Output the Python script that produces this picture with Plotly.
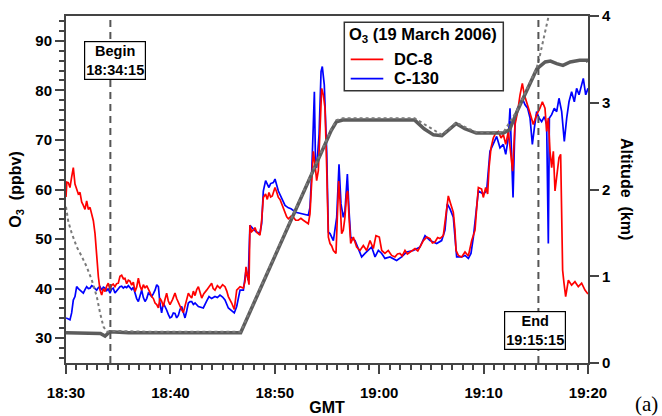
import plotly.graph_objects as go

# ---------------- data (minutes after 18:30 GMT) ----------------
t_dc8 = [0.00,0.08,0.22,0.38,0.54,0.70,0.86,1.02,1.18,1.34,1.50,1.66,1.82,1.98,2.14,2.30,2.46,2.62,2.78,2.94,
         3.10,3.26,3.42,3.58,3.74,3.90,4.05,4.21,4.37,4.53,4.69,4.85,5.01,5.17,5.33,5.49,5.65,5.81,5.97,6.13,
         6.29,6.45,6.61,6.77,6.93,7.09,7.25,7.41,7.57,7.73,7.89,8.05,8.21,8.37,8.53,8.69,8.85,9.00,9.16,9.32,
         9.48,9.64,9.80,9.96,10.20,10.44,10.60,10.76,10.92,11.08,11.24,11.40,11.56,11.72,11.88,12.04,12.20,12.36,12.52,12.68,
         13.00,13.20,13.47,13.70,13.95,14.10,14.27,14.50,14.75,15.00,15.23,15.40,15.55,15.87,16.12,16.35,16.67,16.99,17.15,17.24,
         17.40,17.53,17.62,17.78,17.94,18.10,18.26,18.42,18.58,18.74,18.90,19.12,19.28,19.44,19.60,19.76,19.90,20.02,20.18,20.34,
         20.50,20.66,20.82,20.98,21.14,21.30,21.55,21.78,22.00,22.25,22.50,22.73,23.00,23.21,23.37,23.53,23.69,23.85,24.01,24.17,
         24.33,24.49,24.65,24.81,24.97,25.13,25.29,25.45,25.61,25.86,25.99,26.12,26.25,26.40,26.56,26.72,26.88,26.98,27.11,27.27,
         27.52,27.84,28.16,28.48,28.80,29.12,29.44,29.69,30.01,30.24,30.55,30.87,31.19,31.51,31.75,31.99,32.20,32.47,32.70,32.95,
         33.20,33.43,33.70,33.91,34.23,34.55,34.87,35.10,35.34,35.60,35.82,36.14,36.40,36.62,36.85,37.10,37.26,37.36,37.58,37.90,
         38.22,38.54,38.86,39.18,39.34,39.50,39.81,39.97,40.20,40.39,40.52,40.71,40.93,41.16,41.41,41.67,41.89,42.12,42.37,42.63,
         42.78,43.01,43.26,43.49,43.71,43.90,44.13,44.45,44.76,45.08,45.40,45.63,45.88,46.04,46.20,46.36,46.52,46.68,46.84,47.00,
         47.22,47.38,47.48,47.57,47.70,47.86,48.12,48.43,48.75,49.07,49.39,49.71,50.00]
o3_dc8 = [58.5,61.5,61.4,60.4,62.5,64.4,61.1,60.0,59.1,59.4,57.5,56.8,56.0,57.7,56.0,56.4,55.0,53.7,51.1,46.4,
          42.4,39.7,38.7,40.0,39.4,40.5,41.1,39.8,40.7,40.9,40.4,41.0,41.1,42.5,42.7,42.0,42.1,41.0,41.7,41.5,
          40.7,41.3,39.4,40.3,42.1,40.5,39.7,40.8,40.1,40.6,39.7,39.2,38.4,38.0,37.1,36.8,36.1,38.1,37.5,36.4,
          37.8,39.1,37.5,36.8,37.8,39.1,38.0,37.1,36.5,35.7,35.2,36.4,37.8,39.1,38.5,38.1,39.5,38.6,39.8,40.4,
          38.1,39.0,39.7,40.5,41.1,40.0,39.7,40.6,40.1,40.8,40.4,39.5,38.4,37.1,35.8,39.7,40.4,40.1,41.5,44.4,
          42.4,40.8,52.8,51.5,51.8,52.3,51.4,51.0,50.8,53.8,58.4,59.1,58.0,59.4,58.5,58.7,59.5,60.4,59.5,58.4,
          58.0,57.1,56.0,55.1,54.5,54.1,54.6,54.4,53.8,53.8,54.2,53.8,53.3,53.1,55.1,61.8,67.7,65.1,61.8,63.8,
          74.4,80.4,79.1,76.4,64.4,50.4,49.1,48.6,47.7,47.1,54.4,61.7,57.7,51.1,51.8,54.4,59.1,59.7,54.4,49.1,
          50.4,48.4,47.7,48.7,47.7,49.7,48.1,50.7,50.4,47.7,47.1,47.7,46.7,46.4,47.0,47.1,46.6,47.7,47.0,47.4,
          47.9,48.1,47.6,48.4,49.7,50.4,50.1,49.2,49.4,50.3,50.1,50.7,55.7,58.7,57.1,55.4,51.8,47.7,46.7,46.4,
          47.4,46.6,49.7,51.8,56.4,60.4,60.1,58.4,60.4,59.1,64.4,68.4,70.4,71.4,71.7,70.4,71.1,69.1,71.7,66.4,
          63.7,73.1,75.7,79.1,81.4,79.1,77.7,75.4,73.1,75.1,76.4,77.7,76.4,71.7,74.4,67.7,64.4,67.7,59.7,62.4,
          66.4,67.1,57.7,43.7,41.1,38.4,41.7,40.7,41.4,40.4,41.1,39.7,38.9]

t_c130 = [0.00,0.22,0.38,0.54,0.70,0.86,1.02,1.18,1.34,1.50,1.66,1.82,1.98,2.14,2.30,2.46,2.62,2.78,2.94,3.10,
          3.26,3.42,3.58,3.74,3.90,4.05,4.21,4.37,4.53,4.69,4.85,5.01,5.17,5.33,5.49,5.65,5.81,5.97,6.13,6.29,
          6.45,6.61,6.77,6.93,7.09,7.25,7.41,7.57,7.73,7.89,8.05,8.21,8.37,8.53,8.69,8.85,9.00,9.16,9.32,9.48,
          9.64,9.80,9.96,10.12,10.28,10.44,10.60,10.76,10.92,11.08,11.24,11.40,11.56,11.72,11.88,12.04,12.20,12.36,12.68,13.00,
          13.15,13.47,13.70,13.95,14.27,14.50,14.75,15.00,15.23,15.55,15.87,16.12,16.35,16.67,16.99,17.24,17.45,17.62,17.94,18.26,
          18.58,18.74,18.90,19.12,19.44,19.60,19.86,20.02,20.34,20.66,20.98,21.30,21.55,22.00,22.50,22.73,23.21,23.37,23.53,23.69,
          23.79,23.90,24.01,24.24,24.43,24.55,24.74,24.97,25.13,25.29,25.45,25.61,25.93,26.15,26.34,26.56,26.72,26.95,27.11,27.27,
          27.68,28.00,28.32,28.64,28.96,29.28,29.60,29.92,30.24,30.55,31.03,31.67,32.15,32.63,33.27,33.91,34.39,34.87,35.50,35.98,
          36.30,36.52,36.78,37.10,37.26,37.42,37.90,38.22,38.54,38.79,39.02,39.34,39.50,39.97,40.29,40.61,40.93,41.25,41.57,41.89,
          42.12,42.37,42.53,42.69,42.82,43.01,43.26,43.49,43.71,43.97,44.22,44.45,44.67,44.86,45.08,45.31,45.56,45.82,46.04,46.20,
          46.30,46.52,46.77,47.00,47.22,47.48,47.73,47.96,48.18,48.43,48.69,48.91,49.14,49.39,49.55,49.78,50.00]
o3_c130 = [34.1,33.9,33.7,35.1,37.7,38.4,40.4,40.0,39.7,39.2,39.1,39.8,40.4,40.0,40.1,40.6,40.4,40.0,39.7,40.2,
           40.4,39.7,40.3,40.1,39.6,40.0,39.1,39.9,40.1,39.1,39.6,40.0,40.4,40.5,40.1,40.4,40.2,40.6,40.1,39.8,
           40.3,39.1,38.0,37.4,38.5,39.7,38.2,37.4,38.0,39.1,38.8,38.4,39.0,39.7,40.8,40.4,37.0,35.1,37.1,36.5,
           35.7,34.8,34.1,34.3,35.1,35.0,34.1,34.6,35.8,36.4,35.0,34.1,35.5,37.1,37.4,37.4,36.8,37.1,36.4,36.2,
           36.1,37.5,38.4,38.0,38.4,38.2,38.7,38.3,37.7,36.1,35.5,35.1,36.4,39.7,39.7,43.7,41.7,52.8,52.0,51.4,
           51.2,53.1,59.7,61.8,60.4,61.2,61.4,62.1,59.7,58.4,56.8,56.3,56.1,55.4,55.2,55.1,54.8,56.4,63.1,73.1,
           79.7,65.1,64.4,71.1,83.8,84.8,81.1,67.7,51.4,51.1,50.5,49.7,54.4,65.1,57.1,54.4,55.7,63.1,55.7,50.4,
           49.7,48.1,46.4,47.1,47.7,48.4,46.4,47.7,47.1,46.1,46.4,45.7,46.4,47.4,47.7,48.4,50.7,49.7,49.1,49.7,
           51.8,57.1,56.1,54.4,50.4,46.4,46.4,46.7,46.1,47.1,50.4,56.4,59.7,59.1,59.7,67.7,69.1,70.7,68.4,69.1,
           67.1,70.4,76.4,67.7,58.4,73.7,76.4,77.1,78.4,77.1,76.4,74.4,69.1,72.4,75.7,74.4,73.7,74.7,73.1,49.1,
           74.4,75.1,76.4,75.7,78.4,75.7,69.7,74.4,77.7,79.7,77.7,80.4,79.1,81.1,82.4,79.1,80.4]

# altitude (km): solid = C-130, dotted = DC-8
t_alt_c130 = [0.0,2.0,3.3,3.74,4.2,6.0,10.0,14.0,16.73,25.4,25.9,26.5,33.4,34.3,35.2,36.0,36.6,37.36,38.2,39.3,
              41.9,42.5,43.2,44.1,45.1,45.9,46.4,47.0,47.6,48.3,49.2,49.9,50.0]
alt_c130 = [0.35,0.35,0.34,0.31,0.36,0.35,0.35,0.34,0.35,2.68,2.78,2.80,2.80,2.70,2.63,2.62,2.68,2.76,2.70,2.65,
            2.65,2.69,2.90,3.13,3.39,3.47,3.48,3.45,3.43,3.47,3.49,3.49,3.47]
t_alt_dc8 = [0.0,0.22,0.54,1.02,1.5,1.98,2.46,2.94,3.26,3.58,3.9,4.5,8.0,12.0,16.73,25.4,25.9,26.5,33.4,36.0,
             37.36,39.3,41.9,43.2,44.1,45.08,45.4,45.88,46.2,46.6]
alt_dc8 = [1.80,1.63,1.50,1.34,1.23,1.11,0.96,0.77,0.58,0.42,0.36,0.37,0.36,0.36,0.36,2.69,2.80,2.82,2.82,2.63,
           2.77,2.66,2.66,2.91,3.14,3.40,3.55,3.80,4.00,4.20]

x_tickvals = [0, 10, 20, 30, 40, 50]
x_ticktext = ["18:30", "18:40", "18:50", "19:00", "19:10", "19:20"]
t_begin, t_end = 4.25, 45.25
begin_label, end_label = "Begin<br>18:34:15", "End<br>19:15:15"

# ---------------- layout helpers ----------------
W, H = 662, 416
L, R, T, B = 66, 588, 16, 363
def px(x):
    return (x - L) / (R - L)
def py(y):
    return (B - y) / (B - T)

FONT = "Arial, Liberation Sans, sans-serif"
AX = "#444444"

fig = go.Figure()
fig.add_trace(go.Scatter(x=t_c130, y=o3_c130, mode="lines", name="C-130",
                         line=dict(color="#0000ff", width=1.7), showlegend=False))
fig.add_trace(go.Scatter(x=t_dc8, y=o3_dc8, mode="lines", name="DC-8",
                         line=dict(color="#ff0000", width=1.7), showlegend=False))
fig.add_trace(go.Scatter(x=t_alt_c130, y=alt_c130, mode="lines", yaxis="y2", name="C-130 altitude",
                         line=dict(color="#5c5c5c", width=3.5), showlegend=False))
fig.add_trace(go.Scatter(x=t_alt_dc8, y=alt_dc8, mode="lines", yaxis="y2", name="DC-8 altitude",
                         line=dict(color="#7a7a7a", width=2, dash="dot"), showlegend=False))

tickfont = dict(family=FONT, size=15, color="black", weight="bold")
fig.update_layout(
    width=W, height=H,
    margin=dict(l=L, r=W - R, t=T, b=H - B),
    paper_bgcolor="white", plot_bgcolor="white",
    xaxis=dict(range=[0, 50], tickvals=x_tickvals, ticktext=x_ticktext, automargin=False,
               showgrid=False, zeroline=False, showline=True, linewidth=2, linecolor=AX, mirror=True,
               ticks="outside", ticklen=9, tickwidth=1.5, tickcolor=AX, ticklabelstandoff=6,
               minor=dict(dtick=1, ticks="outside", ticklen=5, tickwidth=1.5, tickcolor=AX),
               tickfont=tickfont,
               title=dict(text="GMT", font=dict(family=FONT, size=16, color="black", weight="bold"), standoff=4)),
    yaxis=dict(range=[25, 95], tick0=0, dtick=10, automargin=False,
               showgrid=False, zeroline=False, showline=True, linewidth=2, linecolor=AX,
               ticks="outside", ticklen=9, tickwidth=1.5, tickcolor=AX,
               minor=dict(dtick=2, ticks="outside", ticklen=5, tickwidth=1.5, tickcolor=AX),
               tickfont=tickfont,
               title=dict(text="O<sub>3</sub>  (ppbv)", font=dict(family=FONT, size=16, color="black", weight="bold"), standoff=10)),
    yaxis2=dict(range=[0, 4], tick0=0, dtick=1, overlaying="y", side="right", automargin=False,
                showgrid=False, zeroline=False, showline=True, linewidth=2, linecolor=AX,
                ticks="outside", ticklen=9, tickwidth=1.5, tickcolor=AX, tickfont=tickfont),
    showlegend=False,
)

# dashed Begin / End lines
for tv in (t_begin, t_end):
    fig.add_shape(type="line", xref="x", yref="paper", x0=tv, x1=tv, y0=0, y1=1,
                  line=dict(color="#555555", width=2, dash="7px,5px"), layer="above")

boxfont = dict(family=FONT, size=14.5, color="black", weight="bold")
fig.add_annotation(x=4.67, y=86.0, xref="x", yref="y", text=begin_label, showarrow=False,
                   font=boxfont, bgcolor="white", bordercolor="black", borderwidth=1.2, borderpad=1)
fig.add_annotation(x=44.88, y=31.5, xref="x", yref="y", text=end_label, showarrow=False,
                   font=boxfont, bgcolor="white", bordercolor="black", borderwidth=1.2, borderpad=1)

# custom legend box
fig.add_shape(type="rect", xref="paper", yref="paper", x0=px(344.3), x1=px(503.3), y0=py(90.7), y1=py(22.3),
              line=dict(color="#333333", width=1.5), fillcolor="white", layer="above")
legfont = dict(family=FONT, size=16.5, color="black", weight="bold")
fig.add_annotation(x=px(346.5), y=py(35), xref="paper", yref="paper", xanchor="left", yanchor="middle",
                   text="O<sub>3</sub> (19 March 2006)", showarrow=False, font=legfont)
fig.add_shape(type="line", xref="paper", yref="paper", x0=px(350.7), x1=px(383.3), y0=py(59.3), y1=py(59.3),
              line=dict(color="#ff0000", width=1.7), layer="above")
fig.add_shape(type="line", xref="paper", yref="paper", x0=px(350.7), x1=px(383.3), y0=py(78.7), y1=py(78.7),
              line=dict(color="#0000ff", width=1.7), layer="above")
fig.add_annotation(x=px(391.5), y=py(59.5), xref="paper", yref="paper", xanchor="left", yanchor="middle",
                   text="DC-8", showarrow=False, font=legfont)
fig.add_annotation(x=px(391.5), y=py(78), xref="paper", yref="paper", xanchor="left", yanchor="middle",
                   text="C-130", showarrow=False, font=legfont)

# right axis title (reads top to bottom)
fig.add_annotation(x=px(627), y=py(189), xref="paper", yref="paper", xanchor="center", yanchor="middle",
                   text="Altitude  (km)", textangle=90,
                   showarrow=False, font=dict(family=FONT, size=16, color="black", weight="bold"))
# panel label
fig.add_annotation(x=px(646), y=py(404), xref="paper", yref="paper", xanchor="center", yanchor="middle",
                   text="(a)", showarrow=False,
                   font=dict(family="Liberation Serif, Times New Roman, serif", size=21, color="black"))

fig.write_html("out.html")
